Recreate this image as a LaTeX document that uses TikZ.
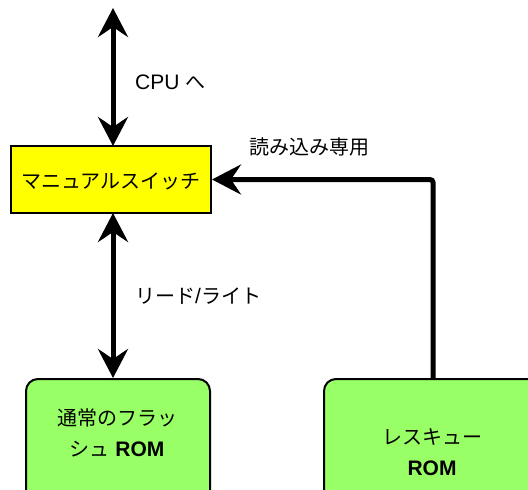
\documentclass[tikz,border=0pt]{standalone}
\usepackage{fontspec}
\setmainfont{Liberation Sans}
\newfontfamily\jp{Noto Sans CJK JP}
\usetikzlibrary{arrows.meta,calc}
\definecolor{swyellow}{RGB}{255,255,0}
\definecolor{romgreen}{RGB}{153,255,102}
\newcommand\jps{\jp\fontsize{20}{24}\selectfont}
\begin{document}
\begin{tikzpicture}[x=1pt,y=-1pt,
  fatarrow/.style={line width=5pt,-{Stealth[length=29pt,width=30pt,inset=10pt]}},
  dblarrow/.style={line width=5pt,{Stealth[length=29pt,width=30pt,inset=10pt]}-{Stealth[length=29pt,width=30pt,inset=10pt]}},
  swbox/.style={draw,line width=2pt,fill=swyellow,minimum width=200pt,minimum height=67pt,inner sep=0pt},
  rombox/.style={draw,line width=2pt,fill=romgreen,rounded corners=12pt,minimum width=184pt,minimum height=150pt,inner sep=0pt},
  lbl/.style={font=\fontsize{21}{24}\selectfont,inner sep=0pt},
  jlbl/.style={font=\jps,inner sep=0pt}]
\useasboundingbox (0,0) rectangle (528,490);
\clip (0,0) rectangle (528,490);
% nodes
\node[swbox] (sw) at (111,179.5) {};
\node[jlbl] (swt) at (111,181) {マニュアルスイッチ};
\node[rombox,anchor=north west] (rom1) at (25,378) {};
\node[rombox,anchor=north west,minimum width=220pt] (rom2) at (323,378) {};
\node[jlbl] (r1a) at (117,418) {通常のフラッ};
\node[lbl] (r1b) at (117,449) {{\jps シュ} \textbf{ROM}};
\node[jlbl] (r2a) at (432,437) {レスキュー};
\node[lbl,font=\fontsize{21}{24}\selectfont\bfseries] (r2b) at (432,468) {ROM};
\coordinate (top) at (113,8);
\coordinate (rbot) at (113,378);
\coordinate (rtop) at (113,213);
\coordinate (swtop) at (113,146);
\coordinate (resc) at (433,378);
% labels
\node[lbl,anchor=west] (cpu) at (135,82) {CPU {\jps へ}};
\node[jlbl,anchor=west] (ro) at (249,147) {読み込み専用};
\node[lbl,anchor=west] (rw) at (135,296) {{\jps リード}/{\jps ライト}};
% connectors
\draw[dblarrow] (top) -- (swtop);
\draw[dblarrow] (rtop) -- (rbot);
\draw[fatarrow,rounded corners=3pt] (resc) |- (sw.east);
\end{tikzpicture}
\end{document}
